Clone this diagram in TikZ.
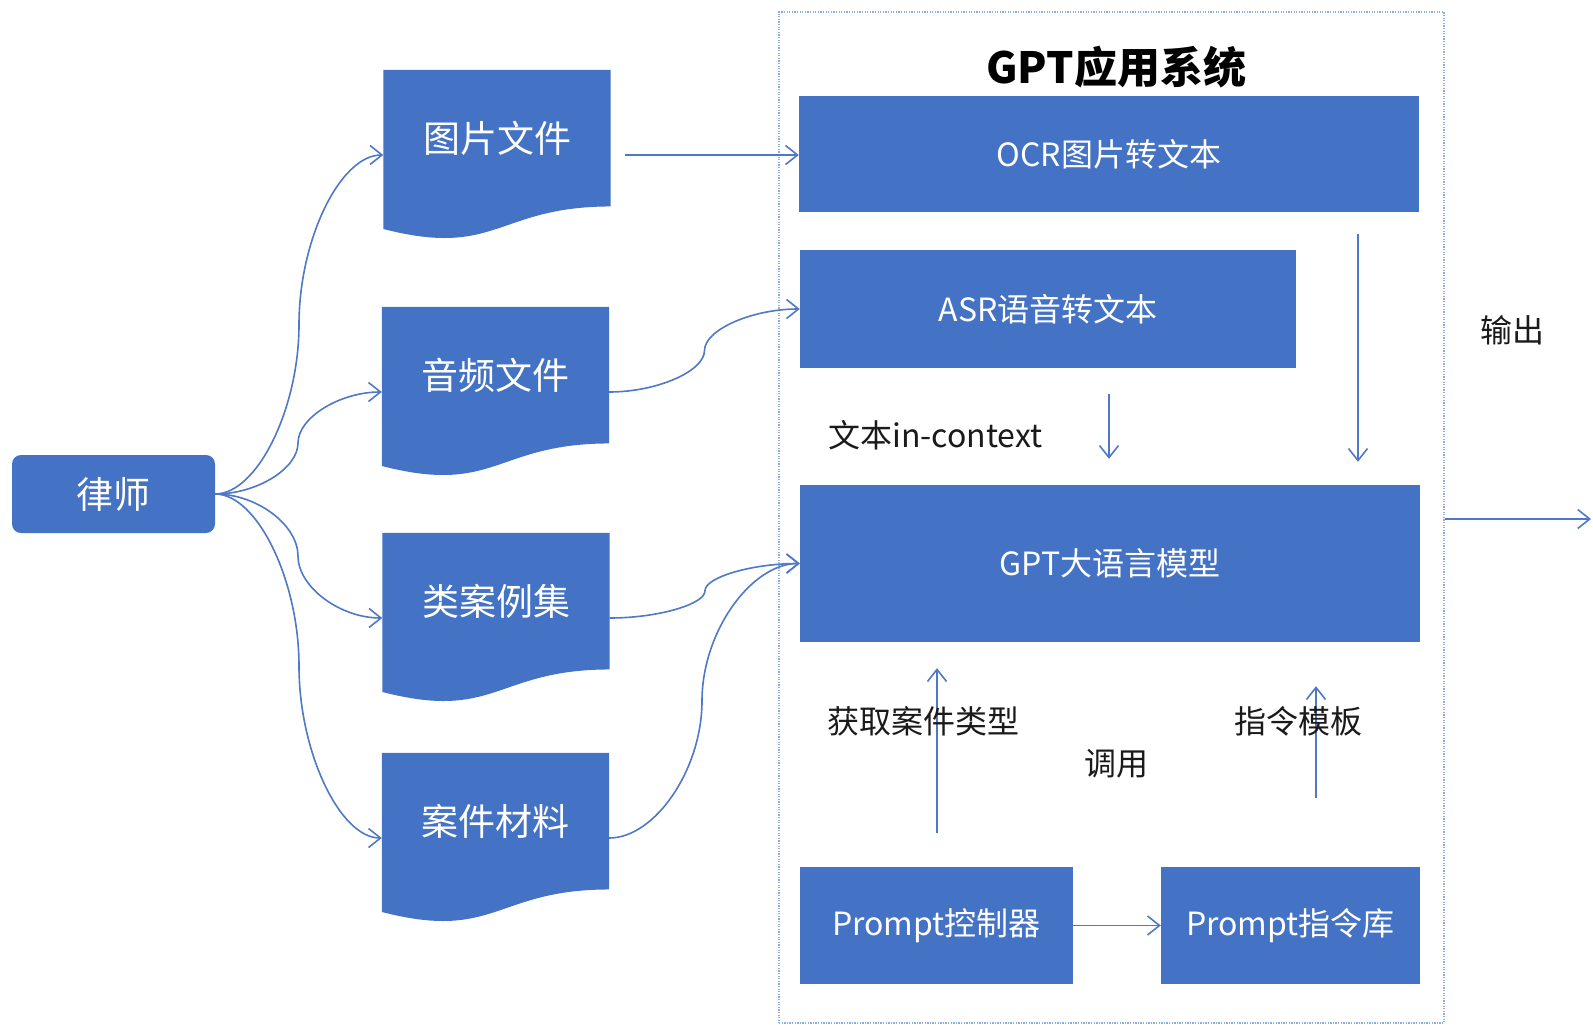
\documentclass[tikz,border=0pt]{standalone}
\usepackage{fontspec}
\setmainfont{Noto Sans CJK SC}
\usetikzlibrary{arrows.meta,calc}
\definecolor{ppblue}{HTML}{4472C4}
\definecolor{linec}{HTML}{4F78C6}
\definecolor{framec}{HTML}{8FAADC}
\definecolor{lblc}{HTML}{1A1A1A}
\begin{document}
\begin{tikzpicture}[x=1pt,y=-1pt,
  box/.style={fill=ppblue, text=white, inner sep=0pt, font=\fontsize{32}{36}\selectfont},
  docbox/.style={inner sep=0pt, minimum width=227pt, minimum height=170pt},
  doctext/.style={text=white, inner sep=0pt, font=\fontsize{37}{40}\selectfont},
  lbl/.style={text=lblc, inner sep=0pt, font=\fontsize{32}{35}\selectfont},
  arr/.style={draw=linec, line width=1.6pt, -{Straight Barb[length=12pt,width=19pt,line width=1.6pt]}}]
\useasboundingbox (0,0) rectangle (1593,1025);

% system frame
\node[draw=framec, line width=1.2pt, dash pattern=on 1.3pt off 1.3pt, minimum width=665pt, minimum height=1011pt, inner sep=0pt] (sys) at (1111.5,517.5) {};
\node[text=black, inner sep=0pt, font=\fontsize{43}{47}\selectfont\bfseries] (title) at (1116,67) {GPT应用系统};

% boxes
\node[box, minimum width=620pt, minimum height=116pt] (ocr) at (1109,154) {OCR图片转文本};
\node[box, minimum width=496pt, minimum height=118pt] (asr) at (1048,309) {ASR语音转文本};
\node[box, minimum width=620pt, minimum height=157pt] (gpt) at (1110,563.5) {GPT大语言模型};
\node[box, minimum width=273pt, minimum height=117pt] (ctrl) at (936.5,925.5) {Prompt控制器};
\node[box, minimum width=259pt, minimum height=117pt] (lib) at (1290.5,925.5) {Prompt指令库};

% lawyer
\node[fill=ppblue, rounded corners=9pt, minimum width=203pt, minimum height=78pt, inner sep=0pt, text=white, font=\fontsize{37}{40}\selectfont] (lawyer) at (113.5,494) {律师};

% documents
\node[docbox] (d1) at (497,155) {};
\node[docbox] (d2) at (495.5,392) {};
\node[docbox] (d3) at (496,618) {};
\node[docbox] (d4) at (495.5,838) {};
\foreach \n in {d1,d2,d3,d4}{
  \fill[ppblue] (\n.north west) -- (\n.north east) -- ($(\n.north east)!0.802!(\n.south east)$)
    .. controls ($(\n.north)!0.802!(\n.south)$) and ($(\n.north)!1.107!(\n.south)$) ..
    ($(\n.north west)!0.934!(\n.south west)$) -- cycle;
}
\node[doctext] (t1) at ([yshift=17pt]d1.center) {图片文件};
\node[doctext] (t2) at ([yshift=17pt]d2.center) {音频文件};
\node[doctext] (t3) at ([yshift=17pt]d3.center) {类案例集};
\node[doctext] (t4) at ([yshift=17pt]d4.center) {案件材料};

% lawyer to documents (curved connectors)
\draw[arr] (lawyer.east) .. controls (257,494) and (299,409) .. (299,324.5)
                         .. controls (299,240) and (340,155) .. (d1.west);
\draw[arr] (lawyer.east) .. controls (257,494) and (298,468.5) .. (298,443)
                         .. controls (298,417.5) and (340,392) .. (d2.west);
\draw[arr] (lawyer.east) .. controls (257,494) and (298,525) .. (298,556)
                         .. controls (298,587) and (340,618) .. (d3.west);
\draw[arr] (lawyer.east) .. controls (257,494) and (299,580) .. (299,666)
                         .. controls (299,752) and (340,838) .. (d4.west);

% documents to system
\draw[arr, shorten <=14pt] (d1.east) -- (ocr.west |- d1.east);
\draw[arr] (d2.east) .. controls (657,392) and (704.5,371.25) .. (704.5,350.5)
                     .. controls (704.5,329.75) and (752,309) .. (asr.west);
\draw[arr] (d3.east) .. controls (657.5,618) and (705,604.4) .. (705,590.75)
                     .. controls (705,577.1) and (752.5,563.5) .. (gpt.west);
\draw[arr] (d4.east) .. controls (655,838) and (702,769.4) .. (702,700.75)
                     .. controls (702,632.1) and (751,563.5) .. (gpt.west);

% inner arrows
\draw[arr, shorten <=26pt, shorten >=26pt] (1109,0 |- asr.south) -- (1109,0 |- gpt.north);
\draw[arr, shorten <=22pt, shorten >=23pt] (1358,0 |- ocr.south) -- (1358,0 |- gpt.north);
\draw[arr, shorten <=34pt, shorten >=26pt] (937,0 |- ctrl.north) -- (937,0 |- gpt.south);
\draw[arr, shorten <=69pt, shorten >=44pt] (1316,0 |- lib.north) -- (1316,0 |- gpt.south);
\draw[arr] (ctrl.east) -- (lib.west);

% output
\coordinate (outend) at (1591,519);
\draw[arr] (sys.east |- outend) -- (outend);

% labels
\node[lbl, anchor=west] (linctx) at (828,435) {文本in-context};
\node[lbl] (lcase) at (923,721) {获取案件类型};
\node[lbl] (ltpl) at (1298,721) {指令模板};
\node[lbl] (lcall) at (1116,764) {调用};
\node[lbl] (lout) at (1512,330) {输出};
\end{tikzpicture}
\end{document}
